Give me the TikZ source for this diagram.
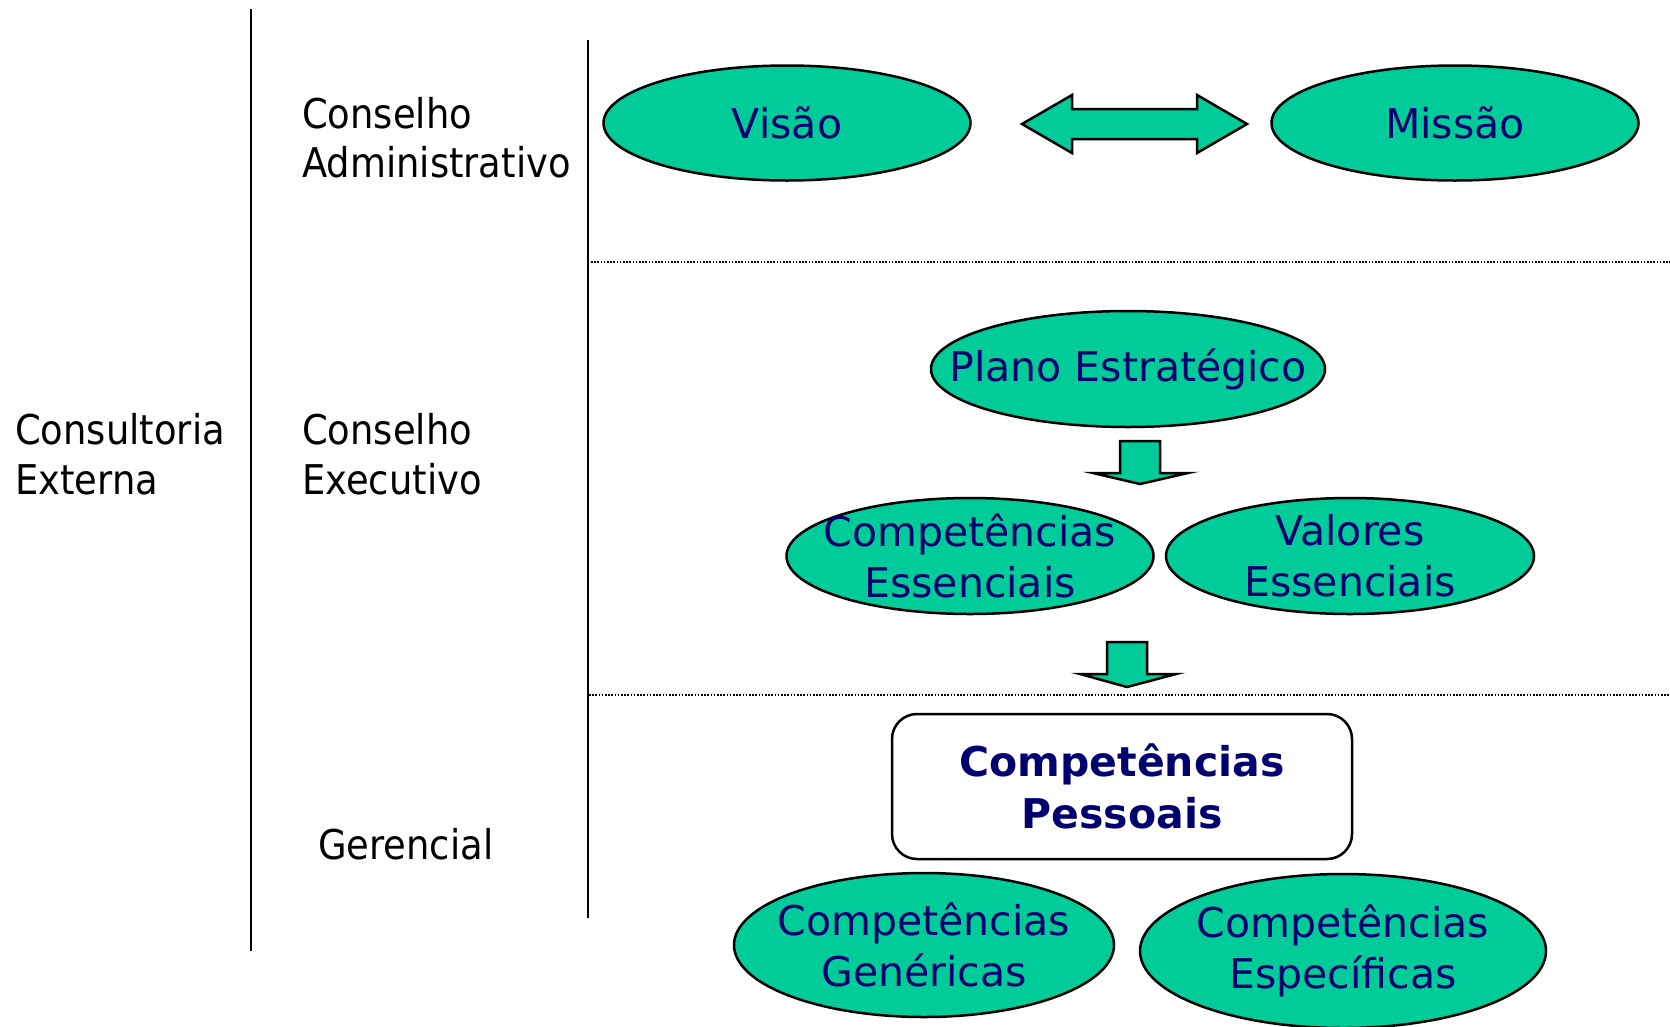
\documentclass[tikz,border=0pt]{standalone}
\usepackage{fontspec}
\setmainfont{DejaVu Sans}
\newfontfamily\labelfont[FakeStretch=0.9]{DejaVu Sans}
\usetikzlibrary{shapes.geometric}
\definecolor{ovalfill}{HTML}{00CC99}
\definecolor{ovaltext}{HTML}{000070}
\tikzset{
  oval/.style={ellipse, draw=black, line width=2.5pt, fill=ovalfill,
    inner sep=0pt, outer sep=0pt},
  ovaltxt/.style={text=ovaltext, inner sep=0pt, align=center, font=\fontsize{41}{51}\selectfont},
  sidelabel/.style={anchor=base west, inner sep=0pt, text=black, font=\labelfont\fontsize{41}{49}\selectfont},
  divider/.style={line width=2.5pt, black},
  sepline/.style={line width=1.3pt, black, dash pattern=on 1.6pt off 1.6pt},
  blockarrow/.style={draw=black, line width=2.5pt, fill=ovalfill, line join=miter},
  roundbox/.style={draw=black, line width=2.5pt, fill=white, rounded corners=25pt}
}
\begin{document}
\begin{tikzpicture}[x=1pt, y=-1pt]
\useasboundingbox (0,0) rectangle (1670,1026);

% vertical dividers
\draw[divider] (251,9) -- (251,951);
\draw[divider] (588,40) -- (588,918);

% dotted separators
\draw[sepline] (591,262) -- (1670,262);
\draw[sepline] (589,695) -- (1670,695);

% side labels
\node[sidelabel] (ce1) at (15,444) {Consultoria};
\node[sidelabel] (ce2) at (15,494) {Externa};
\node[sidelabel] (ca1) at (302,128) {Conselho};
\node[sidelabel] (ca2) at (302,177) {Administrativo};
\node[sidelabel] (cx1) at (302,444) {Conselho};
\node[sidelabel] (cx2) at (302,494) {Executivo};
\node[sidelabel] (ger) at (318,859) {Gerencial};

% ovals (shape) and their texts
\node[oval, minimum width=367pt, minimum height=115pt] (visao) at (787,123) {};
\node[ovaltxt] (visaot) at (visao.center) {Visão};
\node[oval, minimum width=367pt, minimum height=115pt] (missao) at (1455,123) {};
\node[ovaltxt] (missaot) at (missao.center) {Missão};
\node[oval, minimum width=394pt, minimum height=116pt] (plano) at (1128,369) {};
\node[ovaltxt] (planot) at (plano.center) {Plano Estratégico};
\node[oval, minimum width=367pt, minimum height=116pt] (compess) at (970,556) {};
\node[ovaltxt] (compesst) at (compess.center) {Competências\\Essenciais};
\node[oval, minimum width=368pt, minimum height=116pt] (valess) at (1350,556) {};
\node[ovaltxt] (valesst) at (valess.center) {Valores\\Essenciais};
\node[oval, minimum width=380pt, minimum height=144pt] (compgen) at (924,945) {};
\node[ovaltxt] (compgent) at (compgen.center) {Competências\\Genéricas};
\node[oval, minimum width=406pt, minimum height=154pt] (compesp) at (1343,951) {};
\node[ovaltxt] (compespt) at (compesp.center) {Competências\\Específicas};

% rounded box
\node[roundbox, minimum width=460pt, minimum height=145pt, inner sep=0pt] (pbox) at (1122,786.5) {};
\node[text=ovaltext, align=center, inner sep=0pt, font=\bfseries\fontsize{41}{52}\selectfont] (pessoais) at (pbox.center) {Competências\\Pessoais};

% double arrow between Visão and Missão
\draw[blockarrow] (1022,124) -- (1072,95) -- (1072,109) -- (1197,109) -- (1197,95)
  -- (1247,124) -- (1197,153) -- (1197,139) -- (1072,139) -- (1072,153) -- cycle;

% down arrows
\draw[blockarrow] (1120,441) -- (1160,441) -- (1160,473) -- (1188,473) -- (1140,484)
  -- (1093,473) -- (1120,473) -- cycle;
\draw[blockarrow] (1107,642) -- (1147,642) -- (1147,674) -- (1176,674) -- (1127,687)
  -- (1080,674) -- (1107,674) -- cycle;
\end{tikzpicture}
\end{document}
